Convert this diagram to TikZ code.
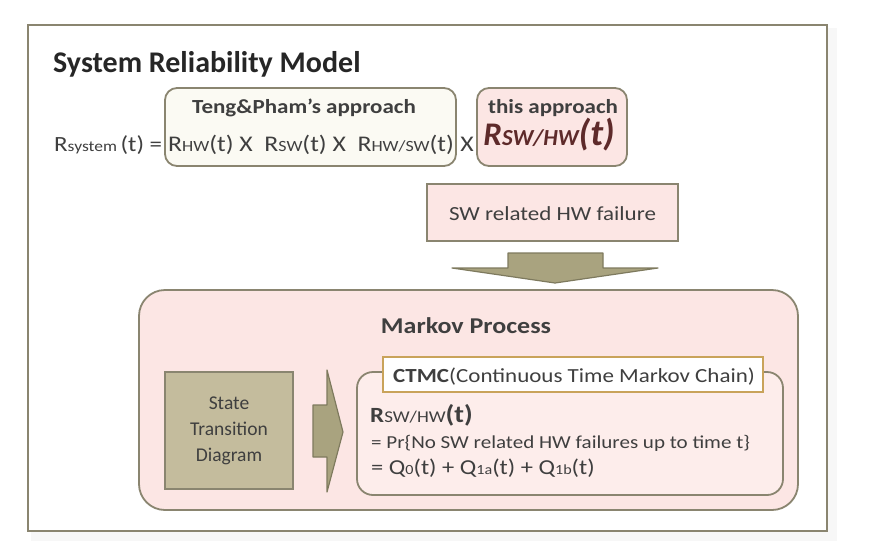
\documentclass[tikz,border=0pt]{standalone}
\usepackage{fontspec}
\setmainfont{Carlito}[FakeStretch=1.15]
\newfontfamily\plainfont{Carlito}
\definecolor{bord}{HTML}{8A8570}
\definecolor{txt}{HTML}{3F3F3F}
\definecolor{cream}{HTML}{FBFAF3}
\definecolor{pinkA}{HTML}{FCE6E4}
\definecolor{pinkB}{HTML}{FDEDEB}
\definecolor{olive}{HTML}{C4BC9D}
\definecolor{arrowc}{HTML}{A9A37F}
\definecolor{arrowb}{HTML}{7E7A5E}
\definecolor{gold}{HTML}{C9A35A}
\definecolor{maroon}{HTML}{5E2A2A}
\newcommand\fs[2]{{\fontsize{#1}{#1}\selectfont #2}}
\tikzset{
  box/.style={draw=bord, line width=1.8pt, inner sep=0pt},
  lbl/.style={inner sep=0pt, text=txt, anchor=base},
}
\begin{document}
\begin{tikzpicture}[x=1pt,y=-1pt]
\useasboundingbox (0,0) rectangle (878,549);
% shadow
\fill[gray!10] (33,30) rectangle (834,538);
\fill[gray!6] (31,28) rectangle (837,541);
% outer frame
\node[box, fill=white, line width=2.5pt, minimum width=799pt, minimum height=506pt] (frame) at (427.5,278) {};
\node[lbl, anchor=base west, text=black!85] (title) at (53,72) {\plainfont\fs{30}{\bfseries System Reliability Model}};
% top boxes
\node[box, fill=cream, rounded corners=12pt, minimum width=291pt, minimum height=78pt] (teng) at (310.5,127) {};
\node[box, fill=pinkA, rounded corners=12pt, minimum width=150pt, minimum height=78pt] (this) at (552,127) {};
\node[lbl] (tenglbl) at (304,113) {\fs{20}{\bfseries Teng\&Pham’s approach}};
\node[lbl] (thislbl) at (553,113) {\fs{20}{\bfseries this approach}};
% equation
\node[lbl, anchor=base west] (rsys) at (54,151) {\fs{21.7}{R\fs{15.2}{system}\,(t) =}};
\node[lbl, anchor=base west] (eq) at (168,151) {\fs{22.4}{R\fs{15.6}{HW}(t) X\ \ R\fs{15.6}{SW}(t) X\ \ R\fs{15.6}{HW/SW}(t)}};
\node[lbl] (x3) at (467,151) {\fs{22.4}{X}};
\node[lbl, text=maroon] (rswhw) at (549,145) {\plainfont\fs{33}{\bfseries\itshape R\fs{23}{SW/HW}\fs{37}{(t)}}};
% SW related HW failure
\node[box, fill=pinkA, minimum width=251pt, minimum height=57pt] (swbox) at (552.5,212.5) {};
\node[lbl] (swlbl) at (552.5,220) {\fs{20}{SW related HW failure}};
% down arrow
\draw[draw=arrowb, fill=arrowc, line width=1.2pt, line join=round]
  (508,253) -- (603,253) -- (603,268) -- (658,268) -- (555,283) -- (452,268) -- (508,268) -- cycle;
% Markov box
\node[box, fill=pinkA, rounded corners=26pt, minimum width=659pt, minimum height=220pt] (markov) at (468.5,400) {};
\node[lbl] (mklbl) at (466,333) {\fs{22.6}{\bfseries Markov Process}};
% state transition
\node[box, fill=olive, minimum width=128pt, minimum height=117pt, align=center, text=txt, font=\plainfont\fontsize{19.5}{26}\selectfont] (state) at (229,430.5) {State\\Transition\\Diagram};
% right arrow
\draw[draw=arrowb, fill=arrowc, line width=1.2pt, line join=round]
  (313,405) -- (327,405) -- (327,370) -- (343,432) -- (327,492) -- (327,457) -- (313,457) -- cycle;
% CTMC box
\node[box, fill=pinkB, rounded corners=16pt, minimum width=426pt, minimum height=123pt] (ctmc) at (570,433.5) {};
\node[box, draw=gold, fill=white, line width=1.6pt, minimum width=380pt, minimum height=35pt] (ctlbl) at (573,374.5) {};
\node[lbl, anchor=base west] (cttxt) at (393,382) {\fs{20}{\bfseries CTMC}\fs{20}{(Continuous Time Markov Chain)}};
\node[lbl, anchor=base west] (r1) at (370,422) {\fs{21.7}{\bfseries R}\fs{16.5}{SW/HW}\fs{24.3}{\bfseries (t)}};
\node[lbl, anchor=base west] (r2) at (371,448) {\fs{18.3}{= Pr\{No SW related HW failures up to time t\}}};
\node[lbl, anchor=base west] (r3) at (371,474) {\fs{21.3}{= Q\fs{14}{0}(t) + Q\fs{14}{1a}(t) + Q\fs{14}{1b}(t)}};
\end{tikzpicture}
\end{document}
